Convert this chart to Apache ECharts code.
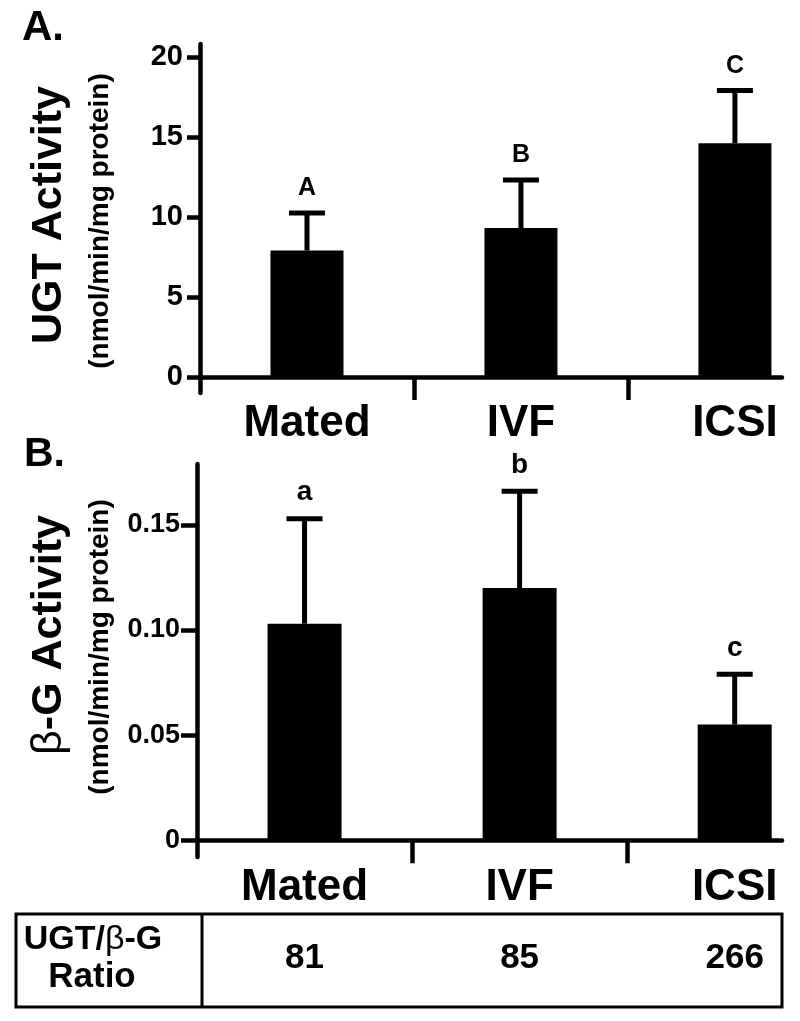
<!DOCTYPE html>
<html>
<head>
<meta charset="utf-8">
<script src="https://cdn.jsdelivr.net/npm/echarts@6/dist/echarts.min.js"></script>
<style>html,body{margin:0;padding:0;background:#fff;}#c{width:800px;height:1021px;}</style>
</head>
<body>
<div id="c"></div>
<script>
const categories = ['Mated', 'IVF', 'ICSI'];
const ugtMean = [7.9, 9.3, 14.6];
const ugtUpper = [10.25, 12.3, 17.9];
const ugtLetters = ['A', 'B', 'C'];
const bgMean = [0.103, 0.120, 0.055];
const bgUpper = [0.153, 0.166, 0.079];
const bgLetters = ['a', 'b', 'c'];
const ratios = [81, 85, 266];
const ugtTicks = [0, 5, 10, 15, 20];
const bgTicks = [0, 0.05, 0.10, 0.15];

const FF = '"Liberation Sans", Arial, Helvetica, sans-serif';
const chart = echarts.init(document.getElementById('c'), null, {renderer: 'canvas'});

function xAxisCfg(gridIndex) {
  return {
    type: 'value', gridIndex: gridIndex, min: 0, max: 2.72,
    splitLine: {show: false},
    axisLine: {show: true, onZero: true, lineStyle: {color: '#000', width: 4.5}},
    axisTick: {show: true, customValues: [1, 2], length: 23, lineStyle: {color: '#000', width: 4.5}},
    axisLabel: {
      show: true, customValues: [0.5, 1.5, 2.5], margin: 9,
      formatter: v => categories[Math.floor(v)],
      color: '#000', fontSize: 44, fontWeight: 'bold', fontFamily: FF
    }
  };
}
function yAxisCfg(gridIndex, min, max, ticks, fs, tickLen, fmt) {
  return {
    type: 'value', gridIndex: gridIndex, min: min, max: max,
    splitLine: {show: false},
    axisLine: {show: true, lineStyle: {color: '#000', width: 4.5}},
    axisTick: {show: true, customValues: ticks, length: tickLen, lineStyle: {color: '#000', width: 4.5}},
    axisLabel: {show: true, customValues: ticks, margin: 17, formatter: fmt,
      color: '#000', fontSize: fs, fontWeight: 'bold', fontFamily: FF}
  };
}
function errRender(letters, fs) {
  return function (params, api) {
    const x = api.value(0), m = api.value(1), u = api.value(2);
    const p0 = api.coord([x, m]);
    const p1 = api.coord([x, u]);
    const hw = 18;
    return {
      type: 'group',
      children: [
        {type: 'line', shape: {x1: p0[0], y1: p0[1], x2: p1[0], y2: p1[1]}, style: {stroke: '#000', lineWidth: 5}},
        {type: 'line', shape: {x1: p1[0] - hw, y1: p1[1], x2: p1[0] + hw, y2: p1[1]}, style: {stroke: '#000', lineWidth: 5}},
        {type: 'text', style: {x: p1[0], y: p1[1] - 12, text: letters[params.dataIndex], fill: '#000',
          fontSize: fs, fontWeight: 'bold', fontFamily: FF, align: 'center', verticalAlign: 'bottom'}}
      ]
    };
  };
}

const option = {
  backgroundColor: '#fff',
  animation: false,
  grid: [
    {left: 200, top: 44, width: 582, height: 349, outerBoundsMode: 'none', containLabel: false},
    {left: 197, top: 464, width: 585, height: 393, outerBoundsMode: 'none', containLabel: false}
  ],
  xAxis: [xAxisCfg(0), xAxisCfg(1)],
  yAxis: [
    yAxisCfg(0, -1, 20.8, ugtTicks, 29, 13, v => String(v)),
    yAxisCfg(1, -0.008, 0.179, bgTicks, 27, 16, v => (v === 0 ? '0' : v.toFixed(2)))
  ],
  series: [
    {type: 'bar', xAxisIndex: 0, yAxisIndex: 0, barWidth: 73, itemStyle: {color: '#000'},
      data: categories.map((c, i) => [i + 0.5, ugtMean[i]])},
    {type: 'custom', xAxisIndex: 0, yAxisIndex: 0, renderItem: errRender(ugtLetters, 25),
      encode: {x: 0, y: [1, 2]}, z: 3,
      data: categories.map((c, i) => [i + 0.5, ugtMean[i], ugtUpper[i]])},
    {type: 'bar', xAxisIndex: 1, yAxisIndex: 1, barWidth: 74, itemStyle: {color: '#000'},
      data: categories.map((c, i) => [i + 0.5, bgMean[i]])},
    {type: 'custom', xAxisIndex: 1, yAxisIndex: 1, renderItem: errRender(bgLetters, 28),
      encode: {x: 0, y: [1, 2]}, z: 3,
      data: categories.map((c, i) => [i + 0.5, bgMean[i], bgUpper[i]])}
  ]
};
chart.setOption(option);

const colX = categories.map((c, i) => chart.convertToPixel({xAxisIndex: 1}, i + 0.5));
const graphics = [
  {type: 'text', x: 22, y: 7, style: {text: 'A.', fill: '#000', fontSize: 42, fontWeight: 'bold', fontFamily: FF}},
  {type: 'text', x: 24, y: 434, style: {text: 'B.', fill: '#000', fontSize: 41, fontWeight: 'bold', fontFamily: FF}},
  {type: 'text', x: 49, y: 215, rotation: Math.PI / 2,
    style: {text: 'UGT Activity', fill: '#000', fontSize: 43, fontWeight: 'bold', fontFamily: FF, align: 'center', verticalAlign: 'middle'}},
  {type: 'text', x: 100, y: 221, rotation: Math.PI / 2,
    style: {text: '(nmol/min/mg protein)', fill: '#000', fontSize: 28, fontWeight: 'bold', fontFamily: FF, align: 'center', verticalAlign: 'middle'}},
  {type: 'text', x: 49, y: 635, rotation: Math.PI / 2,
    style: {text: '{n|β}{b|-G Activity}', align: 'center', verticalAlign: 'middle',
      rich: {n: {fill: '#000', fontSize: 43, fontWeight: 'normal', fontFamily: FF},
             b: {fill: '#000', fontSize: 43, fontWeight: 'bold', fontFamily: FF}}}},
  {type: 'text', x: 100, y: 647, rotation: Math.PI / 2,
    style: {text: '(nmol/min/mg protein)', fill: '#000', fontSize: 28, fontWeight: 'bold', fontFamily: FF, align: 'center', verticalAlign: 'middle'}},
  {type: 'rect', shape: {x: 16, y: 914, width: 766, height: 93}, style: {fill: 'none', stroke: '#000', lineWidth: 3}},
  {type: 'line', shape: {x1: 202, y1: 914, x2: 202, y2: 1007}, style: {stroke: '#000', lineWidth: 3}},
  {type: 'text', x: 93, y: 940,
    style: {text: '{b|UGT/}{n|β}{b|-G}', align: 'center', verticalAlign: 'middle',
      rich: {b: {fill: '#000', fontSize: 34, fontWeight: 'bold', fontFamily: FF},
             n: {fill: '#000', fontSize: 34, fontWeight: 'normal', fontFamily: FF}}}},
  {type: 'text', x: 92, y: 977,
    style: {text: 'Ratio', fill: '#000', fontSize: 35, fontWeight: 'bold', fontFamily: FF, align: 'center', verticalAlign: 'middle'}}
];
ratios.forEach((r, i) => {
  graphics.push({type: 'text', x: colX[i], y: 958,
    style: {text: String(r), fill: '#000', fontSize: 35, fontWeight: 'bold', fontFamily: FF, align: 'center', verticalAlign: 'middle'}});
});
chart.setOption({graphic: graphics});
</script>
</body>
</html>
